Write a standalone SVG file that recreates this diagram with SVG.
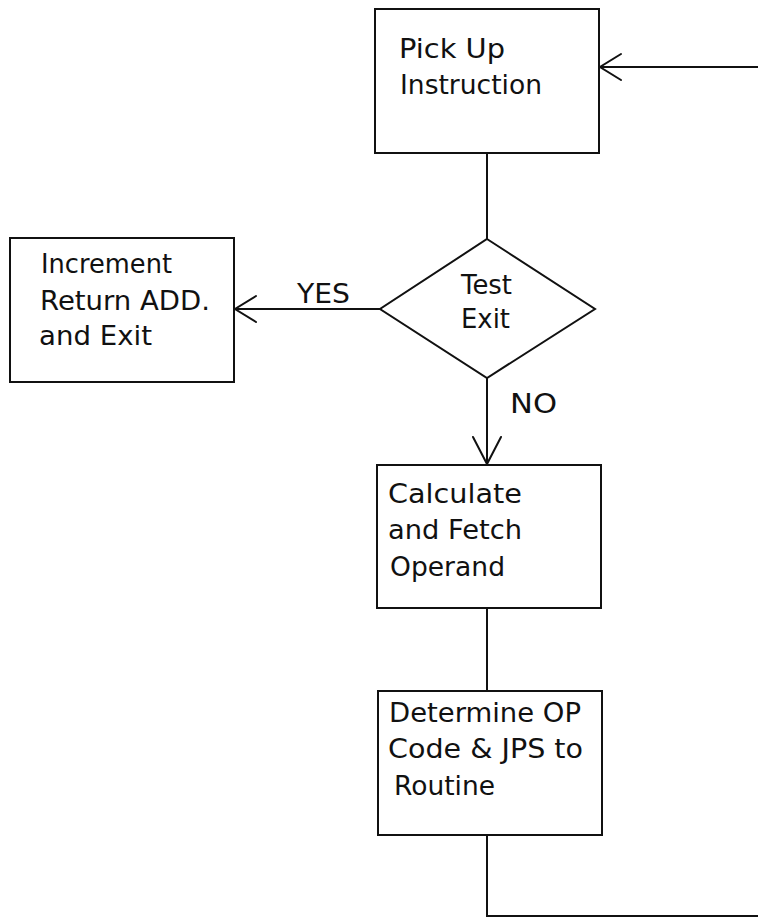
<svg xmlns="http://www.w3.org/2000/svg" width="758" height="919" viewBox="0 0 758 919">
  <style>
    .box { fill: #ffffff; stroke: #111111; stroke-width: 2; }
    .wire { fill: none; stroke: #111111; stroke-width: 2; }
    .head { fill: none; stroke: #111111; stroke-width: 2; stroke-linecap: round; }
    text { font-family: "DejaVu Sans", "Liberation Sans", sans-serif; font-size: 26px; fill: #111111; }
  </style>
  <rect width="758" height="919" fill="#ffffff"/>

  <!-- connectors -->
  <g id="connectors">
    <!-- loop back into the top box -->
    <polyline class="wire" points="487,835 487,916 758,916"/>
    <line class="wire" x1="758" y1="67" x2="599" y2="67"/>
    <polyline class="head" points="621,54 600,67 621,80"/>
    <!-- top box to decision -->
    <line class="wire" x1="487" y1="153" x2="487" y2="239"/>
    <!-- YES branch -->
    <line class="wire" x1="380" y1="309" x2="234" y2="309"/>
    <polyline class="head" points="256,296 235,309 256,322"/>
    <text x="297" y="303" textLength="53" lengthAdjust="spacingAndGlyphs">YES</text>
    <!-- NO branch -->
    <line class="wire" x1="487" y1="378" x2="487" y2="465"/>
    <polyline class="head" points="473,437 487,464 501,437"/>
    <text x="510" y="413" textLength="47" lengthAdjust="spacingAndGlyphs">NO</text>
    <!-- calculate to determine -->
    <line class="wire" x1="487" y1="608" x2="487" y2="691"/>
  </g>

  <g id="pick-up">
    <rect class="box" x="375" y="9" width="224" height="144"/>
    <text x="399" y="58" textLength="106" lengthAdjust="spacingAndGlyphs">Pick Up</text>
    <text x="400" y="94" textLength="142" lengthAdjust="spacingAndGlyphs">Instruction</text>
  </g>

  <g id="test-exit">
    <polygon class="box" points="487,239 595,309 487,378 380,309"/>
    <text x="461" y="294" textLength="51" lengthAdjust="spacingAndGlyphs">Test</text>
    <text x="461" y="328" textLength="49" lengthAdjust="spacingAndGlyphs">Exit</text>
  </g>

  <g id="increment">
    <rect class="box" x="10" y="238" width="224" height="144"/>
    <text x="41" y="273" textLength="131" lengthAdjust="spacingAndGlyphs">Increment</text>
    <text x="40" y="310" textLength="170" lengthAdjust="spacingAndGlyphs">Return ADD.</text>
    <text x="39" y="345" textLength="113" lengthAdjust="spacingAndGlyphs">and Exit</text>
  </g>

  <g id="calculate">
    <rect class="box" x="377" y="465" width="224" height="143"/>
    <text x="388" y="503" textLength="134" lengthAdjust="spacingAndGlyphs">Calculate</text>
    <text x="388" y="539" textLength="134" lengthAdjust="spacingAndGlyphs">and Fetch</text>
    <text x="390" y="576" textLength="115" lengthAdjust="spacingAndGlyphs">Operand</text>
  </g>

  <g id="determine">
    <rect class="box" x="378" y="691" width="224" height="144"/>
    <text x="389" y="722" textLength="192" lengthAdjust="spacingAndGlyphs">Determine OP</text>
    <text x="388" y="758" textLength="195" lengthAdjust="spacingAndGlyphs">Code &amp; JPS to</text>
    <text x="394" y="795" textLength="101" lengthAdjust="spacingAndGlyphs">Routine</text>
  </g>
</svg>
